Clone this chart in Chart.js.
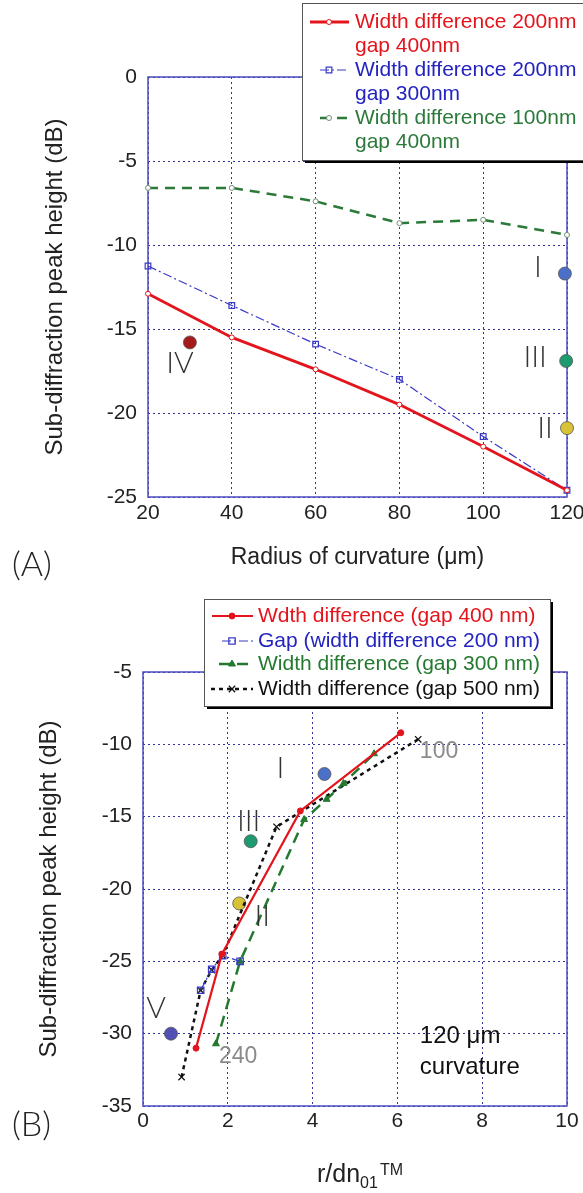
<!DOCTYPE html>
<html>
<head>
<meta charset="utf-8">
<script src="https://cdn.jsdelivr.net/npm/chart.js@4.4.1/dist/chart.umd.min.js"></script>
<style>
  html, body { margin: 0; padding: 0; background: #fff; }
  #wrapA { position: absolute; left: 0; top: 0; width: 583px; height: 590px; }
  #wrapB { position: absolute; left: 0; top: 590px; width: 583px; height: 603px; }
</style>
</head>
<body>
<div id="wrapA"><canvas id="chartA"></canvas></div>
<div id="wrapB"><canvas id="chartB"></canvas></div>
<script>
// ---- panel A: peak height vs radius of curvature
const radiusA = [20, 40, 60, 80, 100, 120];
const wd200gap400 = [-12.9, -15.5, -17.4, -19.5, -22.0, -24.6];
const wd200gap300 = [-11.25, -13.6, -15.9, -18.0, -21.4, -24.6];
const wd100gap400 = [-6.6, -6.6, -7.4, -8.7, -8.5, -9.4];
const legendA = [
  'Width difference 200nm\ngap 400nm',
  'Width difference 200nm\ngap 300nm',
  'Width difference 100nm\ngap 400nm'
];
const modeNamesA = ['I', 'III', 'II', 'IV'];
const modeXA = [119.5, 119.8, 120, 30];
const modeYA = [-11.7, -16.9, -20.9, -15.8];

// ---- panel B: peak height vs r/dn01TM
const gap400X = [1.25, 1.86, 3.71, 6.08];
const gap400Y = [-31.0, -24.5, -14.6, -9.2];
const gapX = [1.36, 1.62, 1.88, 2.29];
const gapY = [-27.0, -25.55, -24.6, -25.0];
const gap300X = [1.72, 2.29, 3.8, 4.33, 4.73, 5.45];
const gap300Y = [-30.7, -25.0, -15.2, -13.8, -12.7, -10.65];
const gap500X = [0.91, 1.36, 1.62, 1.88, 3.15, 6.49];
const gap500Y = [-33.0, -27.0, -25.6, -24.6, -15.7, -9.65];
const legendB = [
  'Wdth difference (gap 400 nm)',
  'Gap (width difference 200 nm)',
  'Width difference (gap 300 nm)',
  'Width difference (gap 500 nm)'
];
const modeNamesB = ['I', 'III', 'II', 'V'];
const modeXB = [4.28, 2.54, 2.27, 0.66];
const modeYB = [-12.05, -16.7, -21.0, -30.0];
const notesB = ['100', '240', '120 \u03bcm', 'curvature'];
const notesBX = [6.53, 1.79, 6.53, 6.53];
const notesBY = [-10.5, -31.6, -30.2, -32.35];

const FONT = '"Liberation Sans", Arial, Helvetica, sans-serif';
const THIN = 'Lato, "DejaVu Sans", sans-serif';
const GRID = 'rgba(30,30,140,0.9)';
const FRAME = '#4b4bc0';

const pts = (xs, ys) => xs.map((x, i) => ({x, y: ys[i]}));

function marker(ctx, ds, x, y) {
  ctx.save();
  ctx.setLineDash([]);
  ctx.strokeStyle = ds.pointBorderColor || ds.borderColor;
  ctx.fillStyle = ds.pointBackgroundColor || ds.backgroundColor;
  ctx.lineWidth = ds.pointBorderWidth || 1;
  Chart.helpers.drawPoint(ctx, {
    pointStyle: ds.pointStyle, radius: ds.pointRadius, rotation: 0, borderWidth: ctx.lineWidth
  }, x, y);
  ctx.restore();
}

function legend(chart, lay) {
  const ctx = chart.ctx;
  ctx.save();
  ctx.fillStyle = '#000';
  ctx.fillRect(lay.x + 3, lay.y + 3, lay.w, lay.h);
  ctx.fillStyle = '#fff';
  ctx.fillRect(lay.x, lay.y, lay.w, lay.h);
  ctx.strokeStyle = '#555';
  ctx.lineWidth = 1;
  ctx.strokeRect(lay.x + 0.5, lay.y + 0.5, lay.w, lay.h);
  lay.rows.forEach((ry, i) => {
    const ds = chart.data.datasets[i];
    ctx.save();
    ctx.strokeStyle = ds.borderColor;
    ctx.lineWidth = ds.borderWidth;
    ctx.setLineDash(ds.borderDash || []);
    ctx.beginPath();
    ctx.moveTo(lay.x0[i], ry);
    ctx.lineTo(lay.x1, ry);
    ctx.stroke();
    ctx.restore();
    marker(ctx, ds, lay.xm, ry);
    ctx.fillStyle = lay.colors[i];
    ctx.font = '21px ' + FONT;
    ctx.textAlign = 'left';
    ctx.textBaseline = 'middle';
    ds.label.split('\n').forEach((t, k) => ctx.fillText(t, lay.tx, ry + k * 24.5));
  });
  ctx.restore();
}

function romanLabels(chart, idx, names, offsets) {
  const ctx = chart.ctx;
  const meta = chart.getDatasetMeta(idx);
  ctx.save();
  ctx.fillStyle = '#333';
  ctx.font = '300 30px ' + THIN;
  ctx.textAlign = 'center';
  ctx.textBaseline = 'middle';
  names.forEach((n, k) => {
    const p = meta.data[k];
    ctx.fillText(n, p.x + offsets[k][0], p.y + offsets[k][1]);
  });
  ctx.restore();
}

const frame = {
  id: 'frame',
  beforeDatasetsDraw(chart) {
    const {ctx, chartArea: a} = chart;
    ctx.save();
    ctx.strokeStyle = FRAME;
    ctx.lineWidth = 1.5;
    ctx.strokeRect(a.left, a.top, a.right - a.left, a.bottom - a.top);
    ctx.restore();
  }
};

function axis(min, max, step, padding, fit) {
  return {
    type: 'linear', min, max,
    ticks: {stepSize: step, color: '#222', padding, font: {family: FONT, size: 21}},
    grid: {color: GRID, lineWidth: 1, drawTicks: false},
    border: {display: false, dash: [2, 3]},
    afterFit: fit
  };
}

// ---------- chart A
const modeColorsA = ['#4a70c8', '#1e9a70', '#d9c235', '#a51a1a'];
new Chart(document.getElementById('chartA'), {
  type: 'scatter',
  data: {
    datasets: [
      {label: legendA[0], data: pts(radiusA, wd200gap400), showLine: true, clip: false,
        borderColor: '#e3141c', backgroundColor: '#fff', borderWidth: 2.8,
        pointStyle: 'circle', pointRadius: 2.5, pointBorderWidth: 1},
      {label: legendA[1], data: pts(radiusA, wd200gap300), showLine: true, clip: false,
        borderColor: '#3a3ac8', backgroundColor: 'rgba(255,255,255,0)', borderWidth: 1.2,
        borderDash: [9, 3, 2, 3], pointStyle: 'rect', pointRadius: 4, pointBorderWidth: 1.2},
      {label: legendA[2], data: pts(radiusA, wd100gap400), showLine: true, clip: false,
        borderColor: '#2b7a3a', backgroundColor: '#fff', borderWidth: 2.5,
        borderDash: [10, 7], pointStyle: 'circle', pointRadius: 2.5, pointBorderWidth: 1,
        pointBorderColor: '#6f8f76'},
      {label: 'modes', data: pts(modeXA, modeYA), showLine: false, clip: false,
        pointRadius: 6.5, pointBackgroundColor: modeColorsA, pointBorderColor: '#555', pointBorderWidth: 0.8}
    ]
  },
  options: {
    responsive: true, maintainAspectRatio: false, animation: false, devicePixelRatio: 1,
    layout: {padding: {top: 77, right: 16, bottom: 0, left: 0}},
    plugins: {legend: {display: false}, tooltip: {enabled: false}},
    scales: {
      x: Object.assign(axis(20, 120, 20, 4, s => { s.height = 93; s.paddingLeft = 0; s.paddingRight = 0; }), {
        title: {display: true, text: 'Radius of curvature (\u03bcm)', color: '#222',
          font: {family: FONT, size: 23}, padding: {bottom: 19}}
      }),
      y: Object.assign(axis(-25, 0, 5, 11, s => { s.width = 148; s.paddingTop = 0; s.paddingBottom = 0; }), {
        title: {display: true, text: 'Sub-diffraction peak height (dB)', color: '#222',
          font: {family: FONT, size: 24}, padding: {top: 41}}
      })
    }
  },
  plugins: [frame, {
    id: 'overA',
    afterDraw(chart) {
      romanLabels(chart, 3, modeNamesA, [[-27, -6], [-31, -4], [-22, 0], [-10, 21]]);
      legend(chart, {
        x: 302, y: 3, w: 300, h: 157, x0: [310, 320, 320], x1: 349, xm: 329, tx: 355,
        rows: [22, 70, 118], colors: ['#e3141c', '#2323c0', '#2b7a3a']
      });
      const ctx = chart.ctx;
      ctx.save();
      ctx.fillStyle = '#222';
      ctx.font = '300 34px ' + THIN;
      ctx.textAlign = 'left';
      ctx.textBaseline = 'alphabetic';
      ctx.fillText('(A)', 12, 576);
      ctx.restore();
    }
  }]
});

// ---------- chart B
const modeColorsB = ['#4a70c8', '#1e9a70', '#d9c235', '#5050b5'];
new Chart(document.getElementById('chartB'), {
  type: 'scatter',
  data: {
    datasets: [
      {label: legendB[0], data: pts(gap400X, gap400Y), showLine: true, clip: false,
        borderColor: '#e3141c', backgroundColor: '#e3141c', borderWidth: 2.2,
        pointStyle: 'circle', pointRadius: 3, pointBorderWidth: 1},
      {label: legendB[1], data: pts(gapX, gapY), showLine: true, clip: false,
        borderColor: '#3a3ac8', backgroundColor: 'rgba(255,255,255,0)', borderWidth: 1.2,
        borderDash: [9, 3, 2, 3], pointStyle: 'rect', pointRadius: 4.5, pointBorderWidth: 1.3},
      {label: legendB[2], data: pts(gap300X, gap300Y), showLine: true, clip: false,
        borderColor: '#237a2f', backgroundColor: '#237a2f', borderWidth: 2.5,
        borderDash: [11, 7], pointStyle: 'triangle', pointRadius: 4, pointBorderWidth: 1},
      {label: legendB[3], data: pts(gap500X, gap500Y), showLine: true, clip: false,
        borderColor: '#111', backgroundColor: '#111', borderWidth: 2.5,
        borderDash: [4, 4], pointStyle: 'crossRot', pointRadius: 4.5, pointBorderWidth: 1.3},
      {label: 'modes', data: pts(modeXB, modeYB), showLine: false, clip: false,
        pointRadius: 6.5, pointBackgroundColor: modeColorsB, pointBorderColor: '#555', pointBorderWidth: 0.8}
    ]
  },
  options: {
    responsive: true, maintainAspectRatio: false, animation: false, devicePixelRatio: 1,
    layout: {padding: {top: 82, right: 16, bottom: 0, left: 0}},
    plugins: {legend: {display: false}, tooltip: {enabled: false}},
    scales: {
      x: axis(0, 10, 2, 3, s => { s.height = 87; s.paddingLeft = 0; s.paddingRight = 0; }),
      y: Object.assign(axis(-35, -5, 5, 11, s => { s.width = 143; s.paddingTop = 0; s.paddingBottom = 0; }), {
        title: {display: true, text: 'Sub-diffraction peak height (dB)', color: '#222',
          font: {family: FONT, size: 24}, padding: {top: 35}}
      })
    }
  },
  plugins: [frame, {
    id: 'overB',
    afterDraw(chart) {
      const ctx = chart.ctx;
      const sx = chart.scales.x, sy = chart.scales.y;
      romanLabels(chart, 4, modeNamesB, [[-44, -6], [-2, -20], [23, 13], [-15, -25]]);
      ctx.save();
      ctx.textAlign = 'left';
      ctx.textBaseline = 'middle';
      notesB.forEach((t, i) => {
        ctx.fillStyle = i < 2 ? '#8a8a8a' : '#111';
        ctx.font = (i < 2 ? '23px ' : '24px ') + FONT;
        ctx.fillText(t, sx.getPixelForValue(notesBX[i]), sy.getPixelForValue(notesBY[i]));
      });
      ctx.restore();

      legend(chart, {
        x: 204, y: 9, w: 346, h: 107, x0: [212, 222, 219, 211], x1: 253, xm: 232, tx: 258,
        rows: [26, 51, 74, 99], colors: ['#e3141c', '#2323c0', '#237a2f', '#111']
      });

      // x-axis title with sub/superscript
      ctx.save();
      ctx.fillStyle = '#222';
      ctx.textBaseline = 'alphabetic';
      ctx.textAlign = 'left';
      ctx.font = '25px ' + FONT;
      const main = 'r/dn';
      const wMain = ctx.measureText(main).width;
      ctx.font = '16px ' + FONT;
      const wSub = ctx.measureText('01').width;
      const wSup = ctx.measureText('TM').width;
      let x = 360 - (wMain + wSub + wSup + 2) / 2;
      ctx.font = '25px ' + FONT;
      ctx.fillText(main, x, 592);
      x += wMain;
      ctx.font = '16px ' + FONT;
      ctx.fillText('01', x, 598);
      x += wSub + 2;
      ctx.fillText('TM', x, 585);
      ctx.restore();

      ctx.save();
      ctx.fillStyle = '#222';
      ctx.font = '300 34px ' + THIN;
      ctx.textAlign = 'left';
      ctx.fillText('(B)', 12, 546);
      ctx.restore();
    }
  }]
});
</script>
</body>
</html>
